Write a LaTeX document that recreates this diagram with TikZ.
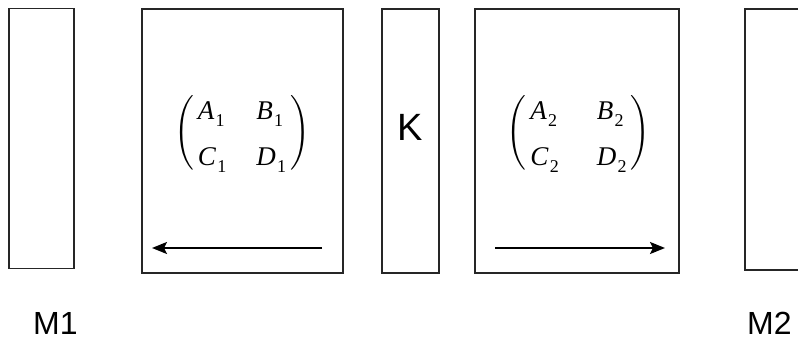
\documentclass[tikz,border=0pt]{standalone}
\usepackage{amsmath}
\usepackage{fontspec}
\setmainfont{Liberation Serif}
\setsansfont{Liberation Sans}
\usetikzlibrary{arrows.meta}
\newcommand{\ent}[2]{\mathit{#1}\mkern1mu\raisebox{-7pt}{\fontsize{18}{18}\selectfont #2}}
\newcommand{\blockmat}[6]{$\renewcommand\arraystretch{1.5}\Biggl(\begin{array}{@{\hspace{#5pt}}l@{\hspace{#6pt}}l@{\hspace{#5pt}}}#1 & #2\\ #3 & #4\end{array}\Biggr)$}
\begin{document}
\begin{tikzpicture}[x=1pt,y=-1pt,
  blk/.style={draw=black!85,line width=1.8pt},
  lbl/.style={font=\sffamily\fontsize{32}{36}\selectfont,inner sep=0pt},
  mat/.style={font=\fontsize{27}{31}\selectfont,inner sep=0pt},
  flow/.style={line width=2.2pt,-{Stealth[length=15pt,width=12pt,inset=3pt]}}]
\useasboundingbox (0,0) rectangle (798,344);
\node[blk,minimum width=65pt,minimum height=260pt,inner sep=0pt] (m1) at (41.5,138.5) {};
\node[blk,minimum width=201pt,minimum height=264pt,inner sep=0pt] (s1) at (242.5,141) {};
\node[blk,minimum width=57pt,minimum height=264pt,inner sep=0pt] (k) at (410.5,141) {};
\node[blk,minimum width=204pt,minimum height=264pt,inner sep=0pt] (s2) at (577,141) {};
\draw[blk] (804,270) -- (745,270) -- (745,9) -- (804,9);
\node[lbl,font=\sffamily\fontsize{38}{42}\selectfont] (kl) at (410,127) {K};
\node[lbl,anchor=base west] (m1l) at (33,335) {M1};
\node[lbl,anchor=base west] (m2l) at (747,335) {M2};
\node[mat] (a1) at (242,133) {\blockmat{\ent{A}{1}}{\ent{B}{1}}{\ent{C}{1}}{\ent{D}{1}}{4}{30}};
\node[mat] (a2) at (578.5,133) {\blockmat{\ent{A}{2}}{\ent{B}{2}}{\ent{C}{2}}{\ent{D}{2}}{4}{38}};
\coordinate (p1) at (322,248);
\coordinate (q1) at (152,248);
\coordinate (p2) at (495,248);
\coordinate (q2) at (665,248);
\draw[flow] (p1) -- (q1);
\draw[flow] (p2) -- (q2);
\end{tikzpicture}
\end{document}
